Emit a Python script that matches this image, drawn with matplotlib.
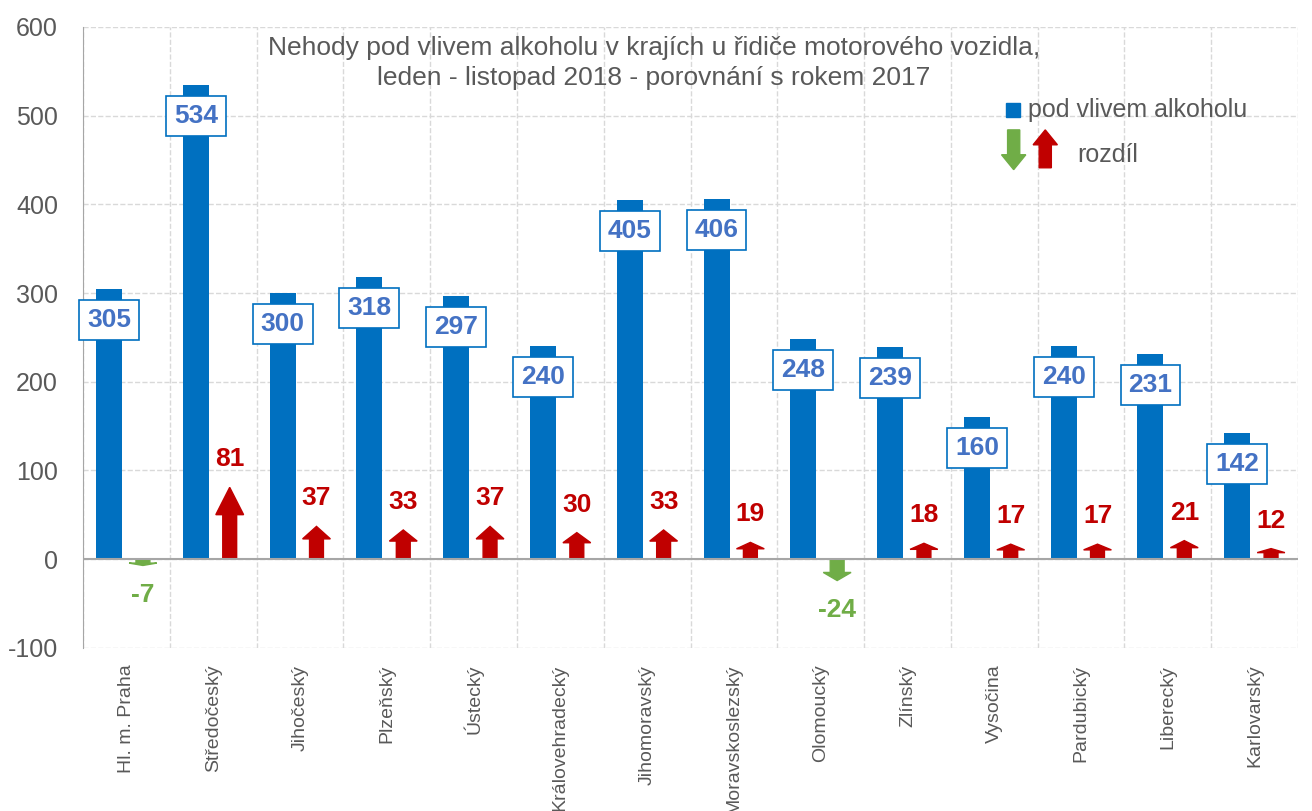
import matplotlib.pyplot as plt
import numpy as np
from matplotlib.patches import FancyArrow, Rectangle

plt.rcParams["font.family"] = ["Liberation Sans", "DejaVu Sans"]
plt.rcParams["axes.unicode_minus"] = False

regions = ["Hl. m. Praha", "Středočeský", "Jihočeský", "Plzeňský", "Ústecký",
           "Královehradecký", "Jihomoravský", "Moravskoslezský", "Olomoucký",
           "Zlínský", "Vysočina", "Pardubický", "Liberecký", "Karlovarský"]
alcohol = [305, 534, 300, 318, 297, 240, 405, 406, 248, 239, 160, 240, 231, 142]
diff = [-7, 81, 37, 33, 37, 30, 33, 19, -24, 18, 17, 17, 21, 12]

BLUE = "#0070C0"
LBLUE = "#4472C4"
RED = "#C00000"
GREEN = "#70AD47"
GREY = "#595959"

fig = plt.figure(figsize=(13.12, 8.11), dpi=100)
ax = fig.add_axes([0.0633, 0.201, 0.926, 0.766])

x = np.arange(len(regions))
ax.bar(x - 0.2, alcohol, width=0.3, color=BLUE, zorder=3)

for xi, v in zip(x, alcohol):
    ax.text(xi - 0.2, v - 35, str(v), ha="center", va="center", fontsize=19,
            fontweight="bold", color=LBLUE, zorder=5,
            bbox=dict(boxstyle="square,pad=0.3", fc="white", ec=BLUE, lw=1.2))

for xi, d in zip(x, diff):
    col = RED if d > 0 else GREEN
    head = abs(d) * 0.38
    arr = FancyArrow(xi + 0.19, 0, 0, d, width=0.16, head_width=0.32,
                     head_length=head, length_includes_head=True,
                     color=col, zorder=4)
    ax.add_patch(arr)
    if d > 0:
        ax.text(xi + 0.19, d + 18, str(d), ha="center", va="bottom", fontsize=19,
                fontweight="bold", color=col)
    else:
        ax.text(xi + 0.19, d - 20, str(d), ha="center", va="top", fontsize=19,
                fontweight="bold", color=col)

ax.axhline(0, color="#A6A6A6", lw=1.5, zorder=4)

ax.set_xlim(-0.5, len(regions) - 0.5)
ax.set_ylim(-100, 600)
ax.set_yticks(range(-100, 601, 100))
ax.set_xticks(x)
ax.set_xticklabels(regions, rotation=90, fontsize=14, color=GREY)
ax.set_xticks(np.arange(-0.5, len(regions)), minor=True)
ax.tick_params(axis="x", which="both", length=0, pad=12)
ax.tick_params(axis="y", length=0, labelsize=18, labelcolor=GREY, pad=18)
ax.grid(axis="y", which="major", ls="--", color="#D9D9D9", lw=1)
ax.grid(axis="x", which="minor", ls="--", color="#D9D9D9", lw=1)
ax.set_axisbelow(True)
for s in ["top", "right", "bottom"]:
    ax.spines[s].set_visible(False)
ax.spines["left"].set_color("#A6A6A6")

ax.text(0.47, 0.985, "Nehody pod vlivem alkoholu v krajích u řidiče motorového vozidla,\n"
        "leden - listopad 2018 - porovnání s rokem 2017",
        transform=ax.transAxes, ha="center", va="top", fontsize=19, color=GREY,
        linespacing=1.3)

# legend
ax.add_patch(Rectangle((0.7597, 0.855), 0.0115, 0.0225, transform=ax.transAxes,
                       color=BLUE, clip_on=False))
ax.text(0.7778, 0.866, "pod vlivem alkoholu", transform=ax.transAxes, ha="left",
        va="center", fontsize=18, color=GREY)
ax.add_patch(FancyArrow(0.766, 0.834, 0, -0.064, width=0.01, head_width=0.02,
                        head_length=0.024, length_includes_head=True,
                        transform=ax.transAxes, color=GREEN, clip_on=False))
ax.add_patch(FancyArrow(0.792, 0.773, 0, 0.061, width=0.01, head_width=0.02,
                        head_length=0.024, length_includes_head=True,
                        transform=ax.transAxes, color=RED, clip_on=False))
ax.text(0.818, 0.794, "rozdíl", transform=ax.transAxes, ha="left", va="center",
        fontsize=18, color=GREY)

fig.savefig("out.png", dpi=100)
